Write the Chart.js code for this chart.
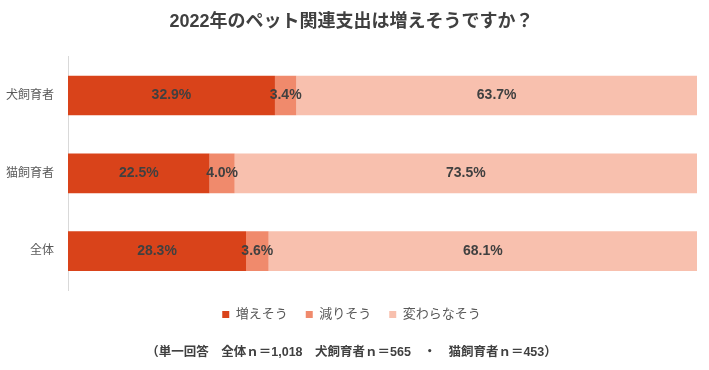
<!DOCTYPE html>
<html lang="ja">
<head>
    <meta charset="UTF-8">
    <title>2022年のペット関連支出</title>
    <style>
        body { margin: 0; background: #ffffff; }
        #chart { display: block; }
    </style>
</head>
<body>
    <canvas id="chart" width="709" height="370"></canvas>

    <script src="https://cdn.jsdelivr.net/npm/chart.js"></script>
    <script>
        const categories = ['犬飼育者', '猫飼育者', '全体'];
        const seriesNames = ['増えそう', '減りそう', '変わらなそう'];
        const increase = [32.9, 22.5, 28.3];
        const decrease = [3.4, 4.0, 3.6];
        const noChange = [63.7, 73.5, 68.1];
        const colors = ['#D9431A', '#F08A6C', '#F8C0AE'];

        const FONT = "'Liberation Sans', 'Noto Sans CJK JP', sans-serif";

        // draws the percentage in the middle of each segment
        const valueLabels = {
            id: 'valueLabels',
            afterDatasetsDraw(chart) {
                const ctx = chart.ctx;
                ctx.save();
                ctx.font = 'bold 14px ' + FONT;
                ctx.fillStyle = '#404040';
                ctx.textAlign = 'center';
                ctx.textBaseline = 'middle';
                chart.data.datasets.forEach((ds, i) => {
                    chart.getDatasetMeta(i).data.forEach((bar, j) => {
                        const cx = (bar.x + bar.base) / 2;
                        ctx.fillText(ds.data[j].toFixed(1) + '%', cx, bar.y);
                    });
                });
                ctx.restore();
            }
        };

        const ctx = document.getElementById('chart').getContext('2d');
        new Chart(ctx, {
            type: 'bar',
            data: {
                labels: categories,
                datasets: [
                    { label: seriesNames[0], data: increase, backgroundColor: colors[0] },
                    { label: seriesNames[1], data: decrease, backgroundColor: colors[1] },
                    { label: seriesNames[2], data: noChange, backgroundColor: colors[2] }
                ]
            },
            options: {
                indexAxis: 'y',
                responsive: false,
                animation: false,
                datasets: {
                    bar: { categoryPercentage: 1, barPercentage: 0.51 }
                },
                layout: { padding: { left: 6, right: 12, top: 0, bottom: 0 } },
                scales: {
                    x: {
                        stacked: true,
                        min: 0,
                        max: 100,
                        display: false
                    },
                    y: {
                        stacked: true,
                        grid: { display: false },
                        border: { color: '#D9D9D9' },
                        ticks: {
                            color: '#595959',
                            font: { family: FONT, size: 12 },
                            padding: 6
                        },
                        afterFit(scale) { scale.width = 62; }
                    }
                },
                plugins: {
                    title: {
                        display: true,
                        text: '2022年のペット関連支出は増えそうですか？',
                        color: '#404040',
                        font: { family: FONT, size: 18, weight: 'bold' },
                        padding: { top: 11, bottom: 24 }
                    },
                    subtitle: {
                        display: true,
                        position: 'bottom',
                        text: '（単一回答　全体ｎ＝1,018　犬飼育者ｎ＝565　・　猫飼育者ｎ＝453）',
                        color: '#404040',
                        font: { family: FONT, size: 12.5, weight: 'bold' },
                        padding: { top: 14, bottom: 10 }
                    },
                    legend: {
                        position: 'bottom',
                        labels: {
                            boxWidth: 7,
                            boxHeight: 7,
                            padding: 18,
                            color: '#595959',
                            font: { family: FONT, size: 13 }
                        }
                    },
                    tooltip: { enabled: false }
                }
            },
            plugins: [valueLabels]
        });
    </script>
</body>
</html>
